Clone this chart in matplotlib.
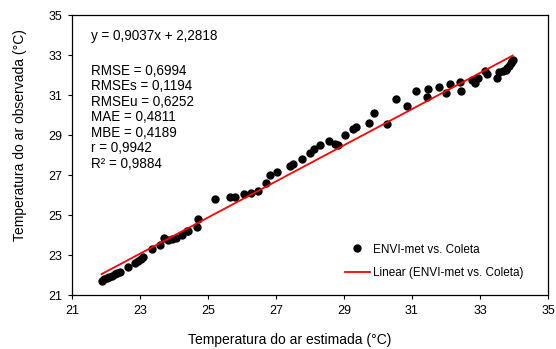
import numpy as np
import matplotlib.pyplot as plt

plt.rcParams['font.family'] = ['Liberation Sans', 'DejaVu Sans']

# temperatura estimada (ENVI-met) x temperatura observada (coleta)
estimada = [21.87, 21.94, 22.02, 22.09, 22.17, 22.26, 22.32, 22.41, 22.66, 22.85,
            22.94, 23.03, 23.10, 23.34, 23.59, 23.72, 23.81, 23.94, 24.06, 24.23,
            24.37, 24.42, 24.68, 24.71, 25.21, 25.65, 25.78, 26.07, 26.26, 26.46,
            26.71, 26.82, 27.04, 27.41, 27.51, 27.76, 28.00, 28.13, 28.29, 28.57,
            28.74, 28.81, 29.03, 29.27, 29.35, 29.75, 29.88, 30.27, 30.52, 30.84,
            31.12, 31.43, 31.48, 31.80, 32.00, 32.13, 32.40, 32.43, 32.76, 32.85,
            32.95, 33.15, 33.22, 33.49, 33.57, 33.69, 33.76, 33.80, 33.86, 33.91,
            33.94, 33.96]
observada = [21.72, 21.78, 21.84, 21.90, 21.95, 22.05, 22.10, 22.13, 22.42, 22.62,
             22.70, 22.80, 22.90, 23.30, 23.48, 23.84, 23.74, 23.79, 23.84, 23.98,
             24.18, 24.20, 24.38, 24.82, 25.80, 25.90, 25.90, 26.04, 26.10, 26.22,
             26.62, 27.02, 27.13, 27.45, 27.54, 27.82, 28.12, 28.29, 28.50, 28.72,
             28.54, 28.52, 29.00, 29.29, 29.42, 29.62, 30.12, 29.54, 30.80, 30.45,
             31.22, 30.92, 31.32, 31.42, 31.12, 31.53, 31.63, 31.22, 31.75, 31.59,
             31.84, 32.20, 32.04, 31.84, 32.14, 32.20, 32.25, 32.34, 32.47, 32.59,
             32.70, 32.75]

a, b = 0.9037, 2.2818
stats = ['RMSE = 0,6994', 'RMSEs = 0,1194', 'RMSEu = 0,6252', 'MAE = 0,4811',
         'MBE = 0,4189', 'r = 0,9942', 'R² = 0,9884']
ticks = [21, 23, 25, 27, 29, 31, 33, 35]

fig = plt.figure(figsize=(5.56, 3.49), dpi=100)
ax = fig.add_axes([0.1295, 0.1547, 0.8561, 0.8023])

x = np.array(estimada)
ax.plot(x, observada, 'o', color='black', markersize=5, linestyle='none',
        label='ENVI-met vs. Coleta')
xl = np.array([x.min(), x.max()])
ax.plot(xl, a * xl + b, color='red', lw=1.3, label='Linear (ENVI-met vs. Coleta)')

ax.set_xlim(21, 35)
ax.set_ylim(21, 35)
ax.set_xticks(ticks)
ax.set_yticks(ticks)
ax.tick_params(direction='out', length=3, width=0.8, labelsize=9, pad=4)
for s in ax.spines.values():
    s.set_linewidth(0.9)

ax.text(0.04, 0.925, 'y = 0,9037x + 2,2818', transform=ax.transAxes, fontsize=9.75, va='center')
ax.text(0.04, 0.825, '\n'.join(stats), transform=ax.transAxes, fontsize=9.75, va='top',
        linespacing=1.13)

ax.legend(loc='lower right', bbox_to_anchor=(0.97, 0.018), frameon=False, fontsize=8.5,
          handlelength=2.1, handletextpad=0.25, labelspacing=1.0)

ax.set_xlabel('Temperatura do ar estimada (°C)', fontsize=10)
ax.set_ylabel('Temperatura do ar observada (°C)', fontsize=10)
ax.xaxis.set_label_coords(0.458, -0.136)
ax.yaxis.set_label_coords(-0.0945, 0.571)

fig.savefig('out.png', dpi=100)
